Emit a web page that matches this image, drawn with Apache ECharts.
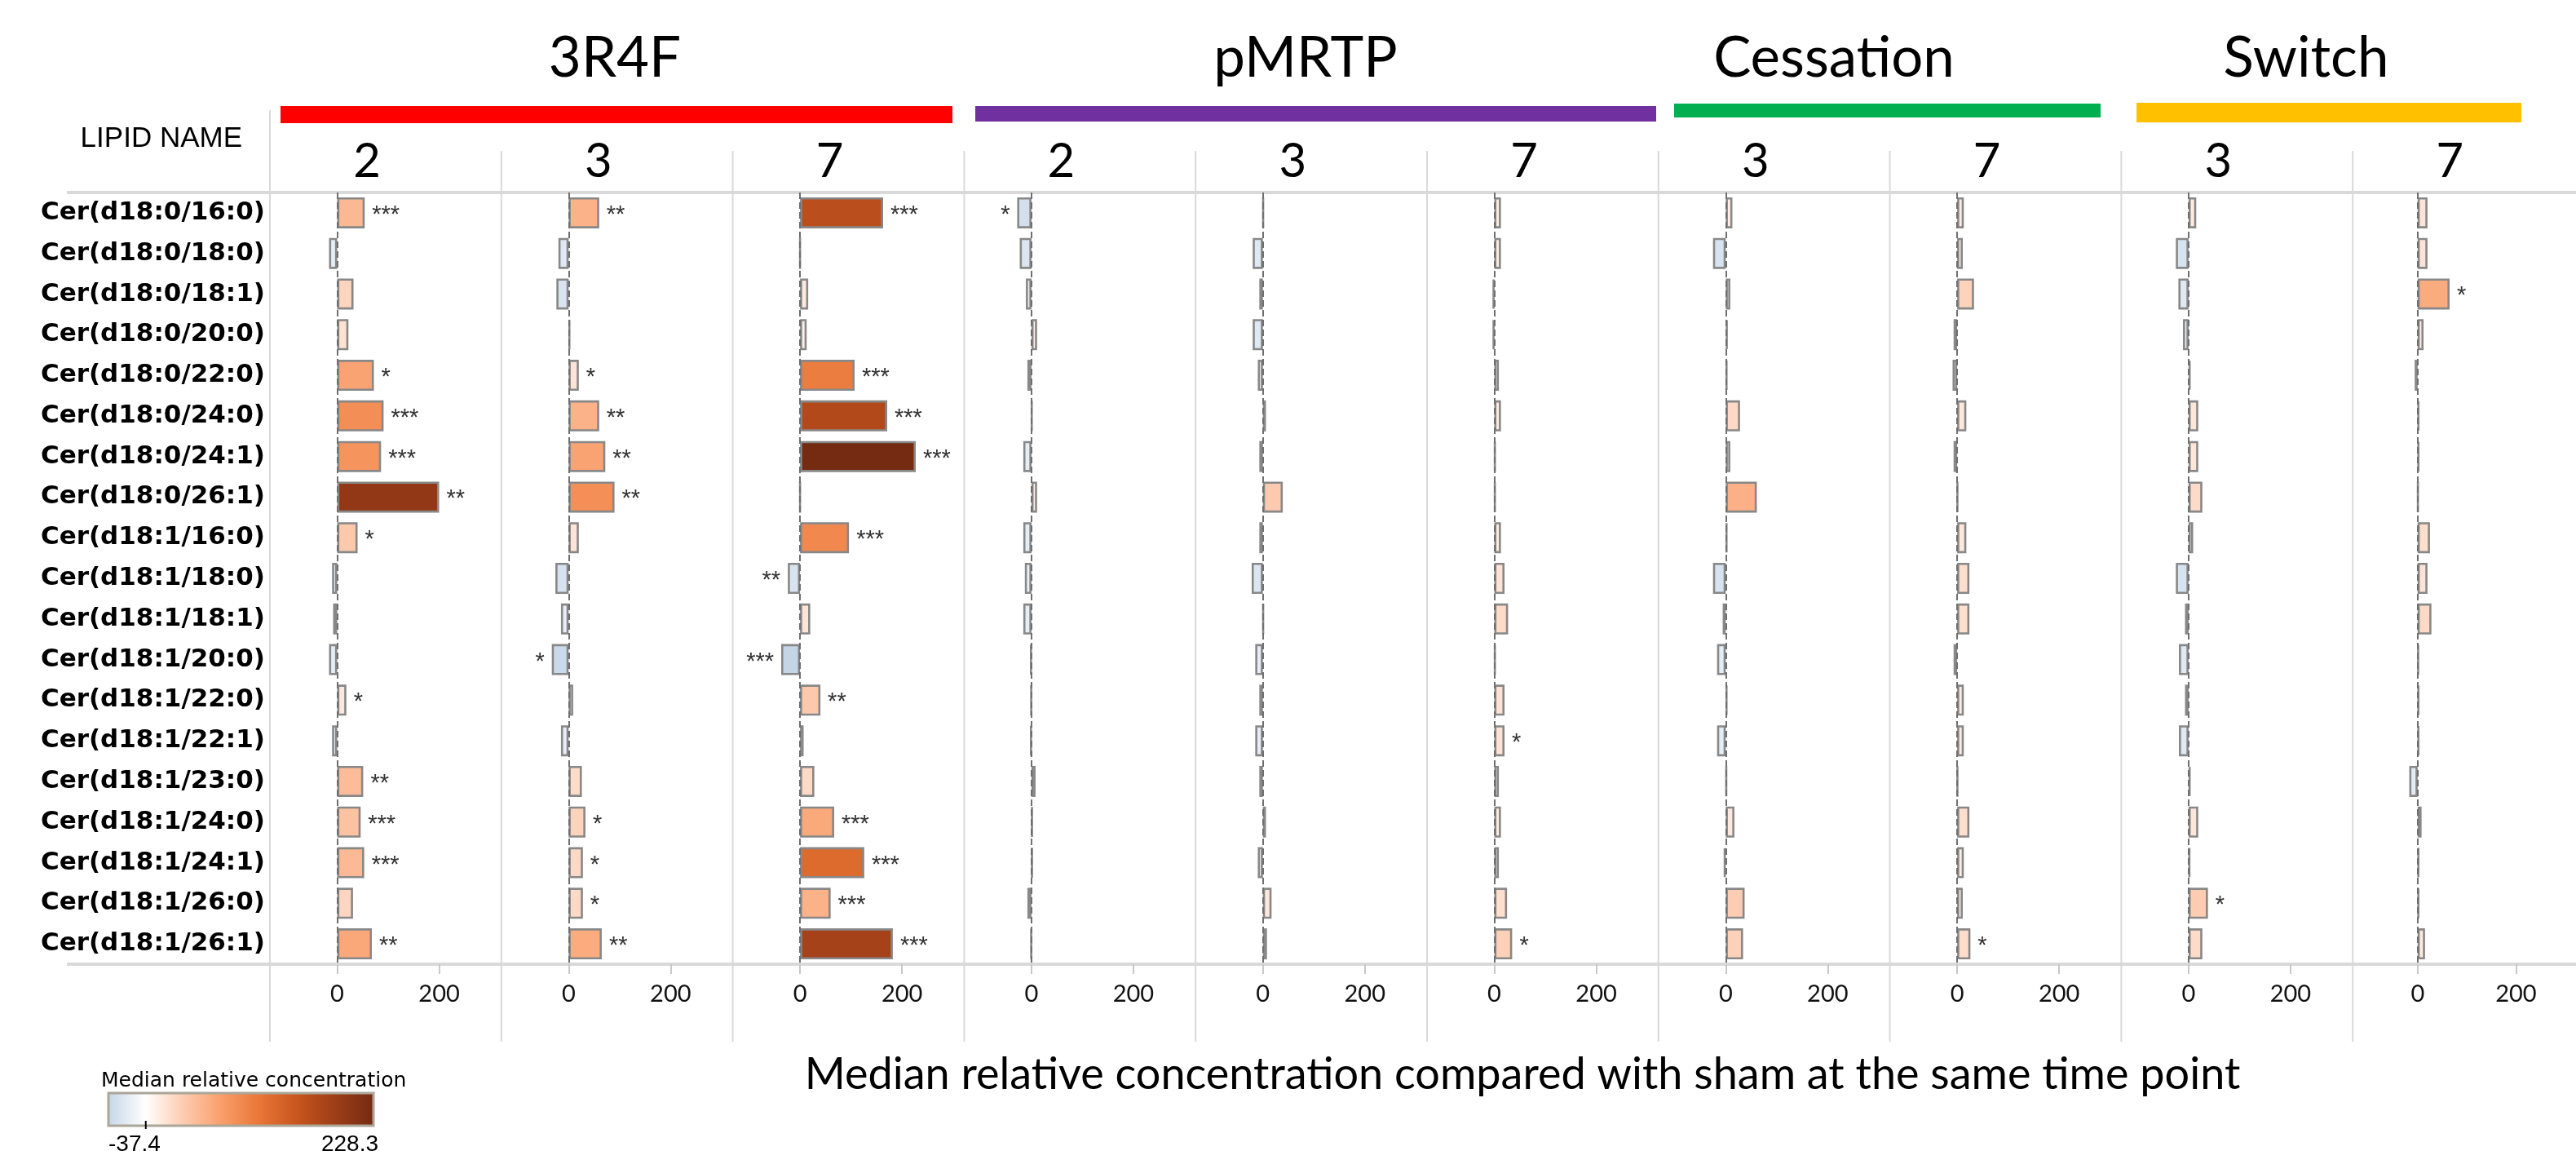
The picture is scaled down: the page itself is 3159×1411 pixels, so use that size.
<!DOCTYPE html>
<html>
<head>
<meta charset="utf-8">
<title>Ceramides - median relative concentration</title>
<script src="https://cdn.jsdelivr.net/npm/echarts@6/dist/echarts.min.js"></script>
<style>
  html, body { margin: 0; padding: 0; background: #fff; }
  #main { width: 3159px; height: 1411px; }
</style>
</head>
<body>
<div id="main"></div>
<script>
// lipid rows, top to bottom
const lipidNames = [
  "Cer(d18:0/16:0)", "Cer(d18:0/18:0)", "Cer(d18:0/18:1)", "Cer(d18:0/20:0)",
  "Cer(d18:0/22:0)", "Cer(d18:0/24:0)", "Cer(d18:0/24:1)", "Cer(d18:0/26:1)",
  "Cer(d18:1/16:0)", "Cer(d18:1/18:0)", "Cer(d18:1/18:1)", "Cer(d18:1/20:0)",
  "Cer(d18:1/22:0)", "Cer(d18:1/22:1)", "Cer(d18:1/23:0)", "Cer(d18:1/24:0)",
  "Cer(d18:1/24:1)", "Cer(d18:1/26:0)", "Cer(d18:1/26:1)"
];

// exposure groups and the time point of each panel
const groupNames = ["3R4F", "pMRTP", "Cessation", "Switch"];
const groupColors = ["#ff0000", "#7030a0", "#00b050", "#ffc000"];
const panelDays = ["2", "3", "7", "2", "3", "7", "3", "7", "3", "7"];

// median relative concentration vs sham, one array per panel
const r3r4fDay2 = [54, -16, 32, 22, 72, 91, 86, 200, 40, -10, -8, -16, 18, -10, 51, 46, 53, 31, 68];
const r3r4fDay3 = [60, -20, -24, 3, 20, 60, 72, 90, 20, -26, -15, -33, 9, -15, 26, 33, 28, 28, 65];
const r3r4fDay7 = [163, 0, 16, 13, 107, 171, 227, 0, 96, -24, 20, -37, 40, 7, 28, 67, 126, 60, 182];
const pmrtpDay2 = [-28, -23, -11, 11, -8, 1, -16, 11, -16, -13, -16, -2, -1, -2, 8, 2, 2, -8, -1];
const pmrtpDay3 = [1, -20, -7, -20, -10, 6, -7, 39, -7, -22, 1, -15, -7, -15, -7, 6, -10, 17, 8];
const pmrtpDay7 = [13, 13, -3, -3, 9, 13, 2, 2, 13, 20, 27, 2, 20, 20, 9, 13, 9, 25, 35];
const cessDay3 = [13, -25, 9, 4, 3, 28, 9, 61, 3, -25, -6, -17, 3, -17, 2, 17, -4, 37, 34];
const cessDay7 = [13, 11, 33, -7, -9, 18, -7, 1, 18, 24, 24, -7, 13, 13, 1, 24, 13, 11, 26];
const switchDay3 = [15, -25, -20, -11, 4, 19, 19, 27, 9, -25, -7, -19, -7, -19, 4, 19, 3, 38, 27];
const switchDay7 = [20, 20, 65, 12, -6, 3, 3, 1, 25, 20, 28, 2, 3, 3, -17, 8, 3, 3, 15];

// significance marks
const r3r4fDay2Sig = ["***", "", "", "", "*", "***", "***", "**", "*", "", "", "", "*", "", "**", "***", "***", "", "**"];
const r3r4fDay3Sig = ["**", "", "", "", "*", "**", "**", "**", "", "", "", "*", "", "", "", "*", "*", "*", "**"];
const r3r4fDay7Sig = ["***", "", "", "", "***", "***", "***", "", "***", "**", "", "***", "**", "", "", "***", "***", "***", "***"];
const pmrtpDay2Sig = ["*", "", "", "", "", "", "", "", "", "", "", "", "", "", "", "", "", "", ""];
const pmrtpDay3Sig = ["", "", "", "", "", "", "", "", "", "", "", "", "", "", "", "", "", "", ""];
const pmrtpDay7Sig = ["", "", "", "", "", "", "", "", "", "", "", "", "", "*", "", "", "", "", "*"];
const cessDay3Sig = ["", "", "", "", "", "", "", "", "", "", "", "", "", "", "", "", "", "", ""];
const cessDay7Sig = ["", "", "", "", "", "", "", "", "", "", "", "", "", "", "", "", "", "", "*"];
const switchDay3Sig = ["", "", "", "", "", "", "", "", "", "", "", "", "", "", "", "", "", "*", ""];
const switchDay7Sig = ["", "", "*", "", "", "", "", "", "", "", "", "", "", "", "", "", "", "", ""];

// colour scale
const scaleMin = -37.4;
const scaleMax = 228.3;
const scaleColors = ["#c4d5e8", "#ffffff", "#fdcbb0", "#f99e6a", "#e97536", "#c6541d", "#9c3d18", "#732a12"];
const tickValues = [0, 200];

const panelValues = [r3r4fDay2, r3r4fDay3, r3r4fDay7, pmrtpDay2, pmrtpDay3, pmrtpDay7, cessDay3, cessDay7, switchDay3, switchDay7];
const panelSigs = [r3r4fDay2Sig, r3r4fDay3Sig, r3r4fDay7Sig, pmrtpDay2Sig, pmrtpDay3Sig, pmrtpDay7Sig, cessDay3Sig, cessDay7Sig, switchDay3Sig, switchDay7Sig];

// layout
const PANEL_LEFT = 331;
const PANEL_W = 283.8;
const PLOT_TOP = 236;
const PLOT_H = 946;
const PLOT_BOTTOM = PLOT_TOP + PLOT_H;
const LINE_COLOR = "#d9d9d9";
// group header bars: [x0, x1, y0, y1] and title centre x
const groupBars = [[344, 1168, 130, 151], [1196, 2031, 130, 149], [2053, 2576, 127, 144], [2620, 3092, 126, 150]];
const groupTitleX = [754, 1601, 2249, 2828];

let grids = [], xAxes = [], yAxes = [], series = [];
for (let i = 0; i < panelValues.length; i++) {
  grids.push({ left: PANEL_LEFT + i * PANEL_W, top: PLOT_TOP, width: PANEL_W, height: PLOT_H });
  xAxes.push({
    type: "value",
    gridIndex: i,
    min: -132,
    max: 322,
    axisLine: { show: false },
    splitLine: { show: false },
    axisTick: { show: true, customValues: tickValues, length: 12, lineStyle: { color: "#c8c8c8", width: 2 } },
    axisLabel: { customValues: tickValues, margin: 22, fontSize: 29, fontFamily: "Lato", color: "#111" }
  });
  yAxes.push({
    type: "category",
    gridIndex: i,
    data: lipidNames,
    inverse: true,
    axisLine: { show: false },
    axisTick: { show: false },
    axisLabel: {
      show: i === 0,
      margin: 6,
      fontSize: 31,
      fontWeight: "bold",
      fontFamily: "DejaVu Sans",
      color: "#000"
    }
  });
  let sig = panelSigs[i];
  series.push({
    type: "bar",
    xAxisIndex: i,
    yAxisIndex: i,
    barWidth: 38,
    encode: { x: 0, y: 1 },
    data: panelValues[i].map((v, k) => ({
      value: [v, k],
      label: { show: sig[k] !== "", position: v < 0 ? "left" : "right", formatter: sig[k] }
    })),
    itemStyle: { borderColor: "#888888", borderWidth: 2.6 },
    label: { fontSize: 29, fontFamily: "Liberation Sans", color: "#333", distance: 9, offset: [0, 3] },
    markLine: {
      silent: true,
      symbol: "none",
      label: { show: false },
      lineStyle: { color: "#6f6f6f", type: "dashed", width: 2 },
      data: [{ xAxis: 0 }]
    }
  });
}

// frame lines, headers, legend
let graphics = [];
graphics.push({ type: "line", shape: { x1: 82, y1: PLOT_TOP, x2: 3159, y2: PLOT_TOP }, style: { stroke: LINE_COLOR, lineWidth: 4 }, z: 0 });
graphics.push({ type: "line", shape: { x1: 82, y1: PLOT_BOTTOM, x2: 3159, y2: PLOT_BOTTOM }, style: { stroke: LINE_COLOR, lineWidth: 4 }, z: 0 });
graphics.push({ type: "line", shape: { x1: PANEL_LEFT, y1: 135, x2: PANEL_LEFT, y2: 1277 }, style: { stroke: LINE_COLOR, lineWidth: 2 }, z: 0 });
for (let i = 0; i < panelDays.length; i++) {
  let x0 = PANEL_LEFT + i * PANEL_W;
  if (i > 0) {
    graphics.push({ type: "line", shape: { x1: x0, y1: 185, x2: x0, y2: 1277 }, style: { stroke: LINE_COLOR, lineWidth: 2 }, z: 0 });
  }
  graphics.push({
    type: "text", x: x0 + 119, y: 198,
    style: { text: panelDays[i], fontSize: 58, fontFamily: "Lato", fill: "#000", textAlign: "center", textVerticalAlign: "middle" }
  });
}
for (let g = 0; g < groupNames.length; g++) {
  let b = groupBars[g];
  graphics.push({ type: "rect", shape: { x: b[0], y: b[2], width: b[1] - b[0], height: b[3] - b[2] }, style: { fill: groupColors[g] } });
  graphics.push({
    type: "text", x: groupTitleX[g], y: 72,
    style: { text: groupNames[g], fontSize: 69, fontFamily: "Lato", fill: "#000", textAlign: "center", textVerticalAlign: "middle" }
  });
}
graphics.push({
  type: "text", x: 297, y: 170,
  style: { text: "LIPID NAME", fontSize: 35, fontFamily: "Liberation Sans", fill: "#000", textAlign: "right", textVerticalAlign: "middle" }
});
graphics.push({
  type: "text", x: 1867, y: 1318,
  style: { text: "Median relative concentration compared with sham at the same time point", fontSize: 54, fontFamily: "Lato", fill: "#000", textAlign: "center", textVerticalAlign: "middle" }
});

// colour legend
const LEG_X = 133, LEG_Y = 1340, LEG_W = 325, LEG_H = 40;
let zeroX = LEG_X + (0 - scaleMin) / (scaleMax - scaleMin) * LEG_W;
graphics.push({
  type: "text", x: 124, y: 1325,
  style: { text: "Median relative concentration", fontSize: 25, fontFamily: "DejaVu Sans", fill: "#000", textAlign: "left", textVerticalAlign: "middle" }
});
graphics.push({
  type: "rect",
  shape: { x: LEG_X, y: LEG_Y, width: LEG_W, height: LEG_H },
  style: {
    fill: new echarts.graphic.LinearGradient(0, 0, 1, 0,
      scaleColors.map((c, k) => ({ offset: k / (scaleColors.length - 1), color: c }))),
    stroke: "#aaa698",
    lineWidth: 3
  }
});
graphics.push({ type: "line", shape: { x1: zeroX, y1: LEG_Y + LEG_H - 6, x2: zeroX, y2: LEG_Y + LEG_H + 4 }, style: { stroke: "#000", lineWidth: 2 } });
graphics.push({
  type: "text", x: LEG_X, y: 1389,
  style: { text: String(scaleMin), fontSize: 28, fontFamily: "Liberation Sans", fill: "#000", textAlign: "left", textVerticalAlign: "top" }
});
graphics.push({
  type: "text", x: LEG_X + LEG_W + 6, y: 1389,
  style: { text: String(scaleMax), fontSize: 28, fontFamily: "Liberation Sans", fill: "#000", textAlign: "right", textVerticalAlign: "top" }
});

let option = {
  backgroundColor: "#fff",
  animation: false,
  grid: grids,
  xAxis: xAxes,
  yAxis: yAxes,
  visualMap: {
    type: "continuous",
    show: false,
    min: scaleMin,
    max: scaleMax,
    dimension: 0,
    seriesIndex: series.map((s, i) => i),
    inRange: { color: scaleColors }
  },
  graphic: graphics,
  series: series
};

let chart = echarts.init(document.getElementById("main"));
chart.setOption(option);
</script>
</body>
</html>
